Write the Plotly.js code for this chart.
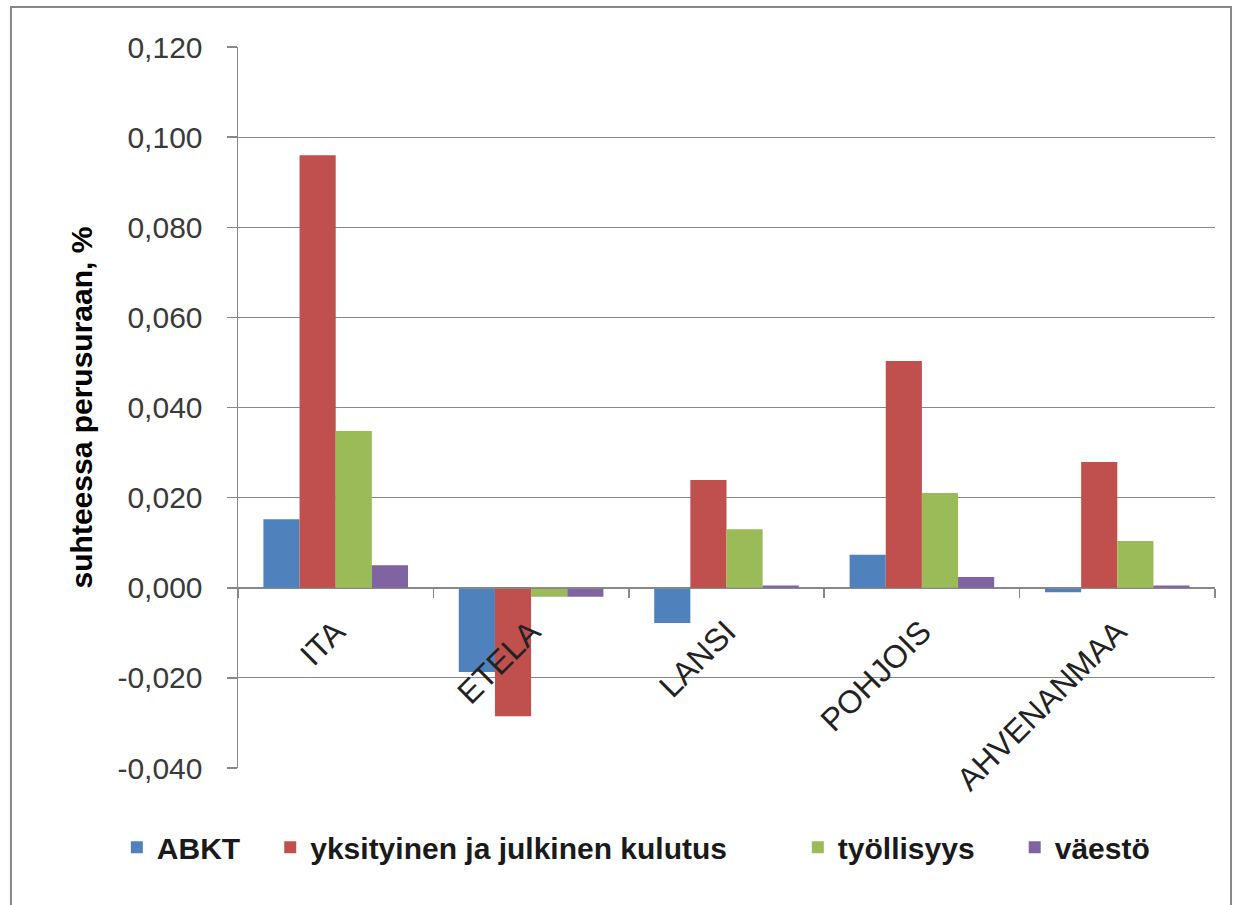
<!DOCTYPE html>
<html>
<head>
<meta charset="utf-8">
<script src="https://cdn.plot.ly/plotly-3.0.1.min.js"></script>
<style>
html,body{margin:0;padding:0;background:#fff;}
#chart{width:1243px;height:905px;}
</style>
</head>
<body>
<div id="chart"></div>
<script>
const categories = ["ITA", "ETELA", "LANSI", "POHJOIS", "AHVENANMAA"];
const seriesNames = ["ABKT", "yksityinen ja julkinen kulutus", "työllisyys", "väestö"];
const abkt = [0.0152, -0.0187, -0.0078, 0.0073, -0.0010];
const kulutus = [0.0960, -0.0285, 0.0239, 0.0503, 0.0279];
const tyollisyys = [0.0348, -0.0020, 0.0130, 0.0210, 0.0104];
const vaesto = [0.0050, -0.0020, 0.0005, 0.0024, 0.0005];
const yTicks = [-0.04, -0.02, 0, 0.02, 0.04, 0.06, 0.08, 0.1, 0.12];
const yTickLabels = ["-0,040", "-0,020", "0,000", "0,020", "0,040", "0,060", "0,080", "0,100", "0,120"];

const colors = ["#4F81BD", "#C0504D", "#9BBB59", "#8064A2"];
const values = [abkt, kulutus, tyollisyys, vaesto];
const legendIds = ["legend", "legend2", "legend3", "legend4"];
// legend left positions in paper fraction (plot area spans 238..1215 px)
const legendX = [-0.124, 0.033, 0.573, 0.795];

const traces = values.map((v, i) => ({
  type: "bar",
  x: categories,
  y: v,
  name: seriesNames[i],
  legend: legendIds[i],
  marker: {color: colors[i]},
  hoverinfo: "x+y+name"
}));

const legendFont = {size: 30, color: "#1a1a1a", weight: "bold", family: "Liberation Sans, Arial, sans-serif"};
function mkLegend(x) {
  return {
    orientation: "h",
    x: x,
    xanchor: "left",
    y: -0.11,
    yanchor: "middle",
    font: legendFont,
    bgcolor: "rgba(0,0,0,0)",
    borderwidth: 0,
    itemwidth: 30
  };
}

const layout = {
  width: 1243,
  height: 905,
  margin: {l: 238, r: 28, t: 47, b: 137},
  paper_bgcolor: "#fff",
  plot_bgcolor: "#fff",
  separators: ",.",
  barmode: "group",
  bargap: 0.26,
  bargroupgap: 0,
  font: {family: "Liberation Sans, Arial, sans-serif", color: "#333"},
  xaxis: {
    type: "category",
    anchor: "free",
    position: 0.25,
    showline: true,
    linecolor: "#888",
    linewidth: 1.5,
    ticks: "outside",
    tickson: "boundaries",
    ticklen: 9,
    tickcolor: "#888",
    tickwidth: 1.5,
    tickangle: -45,
    ticklabelstandoff: 11,
    tickfont: {size: 32, color: "#222"},
    showgrid: false,
    zeroline: false,
    fixedrange: true
  },
  yaxis: {
    range: [-0.04, 0.12],
    domain: [0, 1],
    tickmode: "array",
    tickvals: yTicks,
    ticktext: yTickLabels,
    ticks: "outside",
    ticklen: 10,
    tickcolor: "#888",
    tickwidth: 1.5,
    ticklabelstandoff: 18,
    showline: true,
    linecolor: "#888",
    linewidth: 1.5,
    showgrid: true,
    gridcolor: "#888",
    gridwidth: 1.2,
    zeroline: false,
    tickfont: {size: 30, color: "#3a3a3a"},
    title: {
      text: "suhteessa perusuraan, %",
      font: {size: 30, color: "#000", family: "Liberation Sans, Arial, sans-serif", weight: "bold"},
      standoff: 16
    },
    fixedrange: true
  },
  showlegend: true,
  legend: mkLegend(legendX[0]),
  legend2: mkLegend(legendX[1]),
  legend3: mkLegend(legendX[2]),
  legend4: mkLegend(legendX[3]),
  shapes: [{
    type: "rect",
    xref: "paper", yref: "paper",
    x0: -0.2324, x1: 1.0164,
    y0: -0.3, y1: 1.0555,
    line: {color: "#888", width: 2},
    fillcolor: "rgba(0,0,0,0)",
    layer: "above"
  }]
};

Plotly.newPlot("chart", traces, layout, {staticPlot: true, displayModeBar: false});
</script>
</body>
</html>
